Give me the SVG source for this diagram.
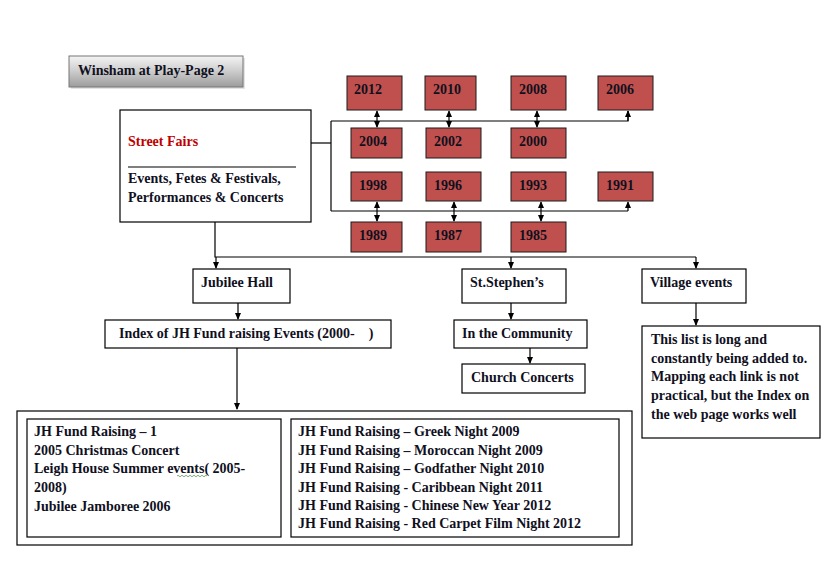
<svg xmlns="http://www.w3.org/2000/svg" width="832" height="564" viewBox="0 0 832 564">
<defs>
<linearGradient id="tg" x1="0" y1="0" x2="0" y2="1">
<stop offset="0" stop-color="#f4f4f4"/>
<stop offset="0.45" stop-color="#d0d0d0"/>
<stop offset="1" stop-color="#9c9c9c"/>
</linearGradient>
<marker id="ah" viewBox="0 0 8 8" refX="7" refY="4" markerWidth="7" markerHeight="7" orient="auto-start-reverse" markerUnits="userSpaceOnUse">
<path d="M0,0.5 L8,4 L0,7.5 Z" fill="#000"/>
</marker>
</defs>
<style>
text{font-family:"Liberation Serif","Times New Roman",serif;font-weight:bold;font-size:14px;fill:#10101e;white-space:pre}
.box{fill:#fff;stroke:#000;stroke-width:1.2}
.yr{fill:#c0504d;stroke:#1a1a1a;stroke-width:1}
.ln{fill:none;stroke:#000;stroke-width:1.2}
.arr{fill:none;stroke:#000;stroke-width:1.2;marker-end:url(#ah)}
.dbl{fill:none;stroke:#000;stroke-width:1.2;marker-start:url(#ah);marker-end:url(#ah)}
</style>
<rect width="832" height="564" fill="#fff"/>

<g id="title">
<rect x="71" y="58" width="174" height="31" fill="#c8c8c8" opacity="0.5"/>
<rect x="69" y="56" width="174" height="31" fill="url(#tg)" stroke="#777" stroke-width="1"/>
<text x="78" y="75">Winsham at Play-Page 2</text>
</g>

<g id="connectors">
<path class="ln" d="M311,143 H331"/>
<path class="ln" d="M331,121 V211"/>
<path class="ln" d="M331,121 H628 V111"/>
<path class="arr" d="M628,121 V111"/>
<path class="ln" d="M331,211 H628"/>
<path class="arr" d="M628,211 V202"/>
<path class="dbl" d="M377,111 V127"/>
<path class="dbl" d="M449,111 V127"/>
<path class="dbl" d="M537,111 V127"/>
<path class="dbl" d="M377,202 V221"/>
<path class="dbl" d="M454,202 V221"/>
<path class="dbl" d="M541,202 V221"/>
<path class="ln" d="M215,222 V257 H696"/>
<path class="arr" d="M216,257 V268"/>
<path class="arr" d="M511,257 V268"/>
<path class="arr" d="M696,257 V268"/>
<path class="arr" d="M238,303 V319"/>
<path class="arr" d="M511,303 V319"/>
<path class="arr" d="M530,348 V363"/>
<path class="arr" d="M696,303 V325"/>
<path class="arr" d="M237,348 V409"/>
</g>

<g id="streetfairs">
<rect class="box" x="120" y="110" width="191" height="112"/>
<text x="128" y="146" style="fill:#c00000">Street Fairs</text>
<path class="ln" d="M128,167 H296"/>
<text x="128" y="183">Events, Fetes &amp; Festivals,</text>
<text x="128" y="202">Performances &amp; Concerts</text>
</g>

<g id="y2012"><rect class="yr" x="347" y="76" width="55" height="34"/><text x="354" y="94">2012</text></g>
<g id="y2010"><rect class="yr" x="425" y="76" width="51" height="34"/><text x="433" y="94">2010</text></g>
<g id="y2008"><rect class="yr" x="511" y="76" width="55" height="34"/><text x="519" y="94">2008</text></g>
<g id="y2006"><rect class="yr" x="598" y="76" width="55" height="34"/><text x="606" y="94">2006</text></g>
<g id="y2004"><rect class="yr" x="351" y="128" width="51" height="30"/><text x="359" y="146">2004</text></g>
<g id="y2002"><rect class="yr" x="426" y="128" width="55" height="30"/><text x="434" y="146">2002</text></g>
<g id="y2000"><rect class="yr" x="511" y="128" width="55" height="30"/><text x="519" y="146">2000</text></g>
<g id="y1998"><rect class="yr" x="351" y="172" width="51" height="29"/><text x="359" y="190">1998</text></g>
<g id="y1996"><rect class="yr" x="426" y="172" width="55" height="29"/><text x="434" y="190">1996</text></g>
<g id="y1993"><rect class="yr" x="511" y="172" width="55" height="29"/><text x="519" y="190">1993</text></g>
<g id="y1991"><rect class="yr" x="598" y="172" width="55" height="29"/><text x="606" y="190">1991</text></g>
<g id="y1989"><rect class="yr" x="351" y="222" width="51" height="30"/><text x="359" y="240">1989</text></g>
<g id="y1987"><rect class="yr" x="426" y="222" width="55" height="30"/><text x="434" y="240">1987</text></g>
<g id="y1985"><rect class="yr" x="511" y="222" width="55" height="30"/><text x="519" y="240">1985</text></g>

<g id="jubilee"><rect class="box" x="193" y="269" width="97" height="34"/><text x="201" y="287">Jubilee Hall</text></g>
<g id="ststephens"><rect class="box" x="462" y="269" width="104" height="34"/><text x="470" y="287">St.Stephen’s</text></g>
<g id="village"><rect class="box" x="642" y="269" width="104" height="34"/><text x="650" y="287">Village events</text></g>
<g id="index"><rect class="box" x="105" y="320" width="286" height="28"/><text x="119" y="338">Index of JH Fund raising Events (2000-    )</text></g>
<g id="community"><rect class="box" x="454" y="320" width="133" height="28"/><text x="462" y="338">In the Community</text></g>
<g id="church"><rect class="box" x="462" y="364" width="123" height="29"/><text x="471" y="382">Church Concerts</text></g>
<g id="note">
<rect class="box" x="642" y="326" width="178" height="112"/>
<text x="651" y="344">This list is long and</text>
<text x="651" y="363">constantly being added to.</text>
<text x="651" y="381">Mapping each link is not</text>
<text x="651" y="400">practical, but the Index on</text>
<text x="651" y="419">the web page works well</text>
</g>

<g id="events">
<rect class="box" x="17" y="411" width="615" height="134"/>
<rect class="box" x="27" y="419" width="254" height="118"/>
<rect class="box" x="291" y="419" width="328" height="118"/>
<text x="34" y="436">JH Fund Raising – 1</text>
<text x="34" y="455">2005 Christmas Concert</text>
<text x="34" y="473">Leigh House Summer events( 2005-</text>
<text x="34" y="492">2008)</text>
<text x="34" y="511">Jubilee Jamboree 2006</text>
<path d="M177,476 q1,-1.5 2,0 t2,0 t2,0 t2,0 t2,0 t2,0 t2,0 t2,0 t2,0 t2,0 t2,0 t2,0 t2,0 t2,0 t2,0" fill="none" stroke="#5a9a50" stroke-width="0.8"/>
<text x="298" y="436">JH Fund Raising – Greek Night 2009</text>
<text x="298" y="455">JH Fund Raising – Moroccan Night 2009</text>
<text x="298" y="473">JH Fund Raising – Godfather Night 2010</text>
<text x="298" y="492">JH Fund Raising - Caribbean Night 2011</text>
<text x="298" y="510">JH Fund Raising - Chinese New Year 2012</text>
<text x="298" y="528">JH Fund Raising - Red Carpet Film Night 2012</text>
</g>
</svg>
